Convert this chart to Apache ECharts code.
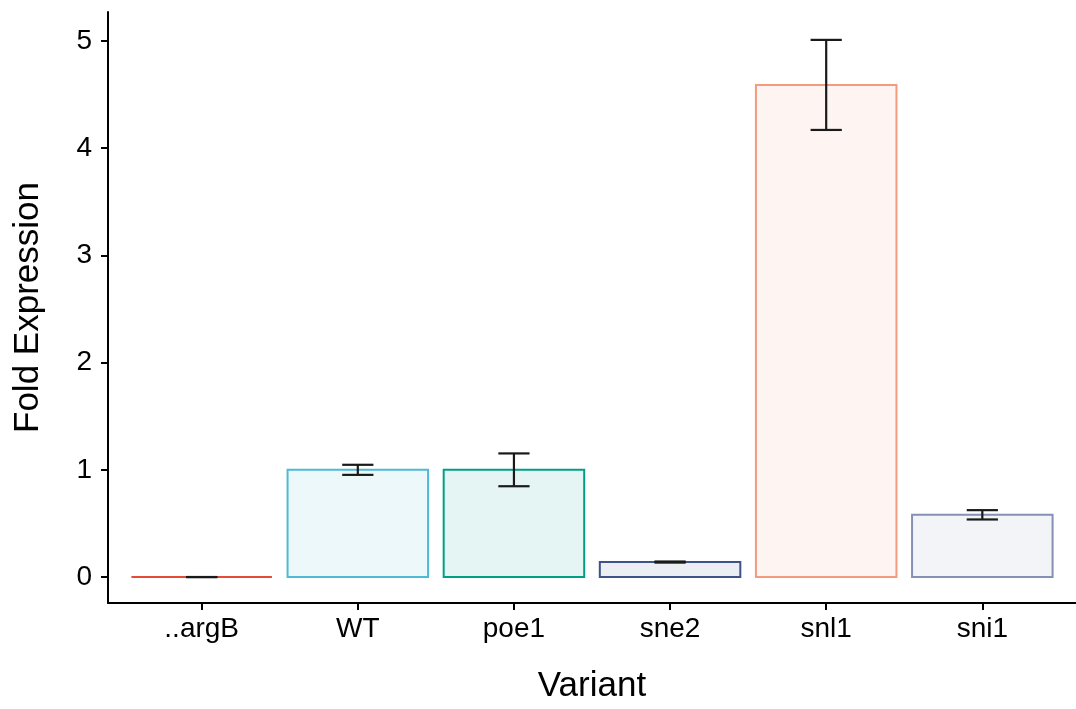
<!DOCTYPE html>
<html>
<head>
<meta charset="utf-8">
<script src="https://cdn.jsdelivr.net/npm/echarts@6/dist/echarts.min.js"></script>
<style>
  html, body { margin: 0; padding: 0; background: #fff; }
  #main { width: 1076px; height: 709px; }
</style>
</head>
<body>
<div id="main"></div>
<script>
const variants = ['..argB', 'WT', 'poe1', 'sne2', 'snl1', 'sni1']
const foldExpression = [0.0, 1.0, 1.0, 0.14, 4.59, 0.58]
const errLow = [0.0, 0.953, 0.847, 0.135, 4.17, 0.537]
const errHigh = [0.0, 1.047, 1.153, 0.145, 5.01, 0.624]
const yTicks = [0, 1, 2, 3, 4, 5]

const strokeColors = ['#E64B35', '#4DBBD5', '#00A087', '#3C5488', '#F39B7F', '#8491B4']
const fillColors = strokeColors.map(c => echarts.color.modifyAlpha(c, 0.1))
const font = '"Liberation Sans", Arial, Helvetica, sans-serif'

const barData = foldExpression.map((v, i) => [i, v])
const errData = variants.map((_, i) => [i, errLow[i], errHigh[i]])

const chart = echarts.init(document.getElementById('main'))
chart.setOption({
  animation: false,
  grid: { left: 108, right: 0, top: 12, bottom: 105 },
  xAxis: {
    type: 'value',
    min: -0.6,
    max: 5.6,
    name: 'Variant',
    nameLocation: 'middle',
    nameGap: 66,
    nameTextStyle: { fontFamily: font, fontSize: 35, color: '#000' },
    splitLine: { show: false },
    axisLine: { show: true, onZero: false, lineStyle: { color: '#000', width: 2 } },
    axisTick: { show: true, length: 7, customValues: yTicks, lineStyle: { color: '#000', width: 2 } },
    axisLabel: {
      customValues: yTicks,
      margin: 12,
      fontFamily: font, fontSize: 28, color: '#000',
      formatter: v => variants[Math.round(v)]
    }
  },
  yAxis: {
    type: 'value',
    min: -0.242,
    max: 5.27,
    name: 'Fold Expression',
    nameLocation: 'middle',
    nameGap: 62,
    nameTextStyle: { fontFamily: font, fontSize: 35, color: '#000' },
    splitLine: { show: false },
    axisLine: { show: true, onZero: false, lineStyle: { color: '#000', width: 2 } },
    axisTick: { show: true, length: 7, customValues: yTicks, lineStyle: { color: '#000', width: 2 } },
    axisLabel: {
      customValues: yTicks,
      margin: 16,
      fontFamily: font, fontSize: 28, color: '#000'
    }
  },
  series: [
    {
      type: 'custom',
      name: 'bars',
      data: barData,
      renderItem: (params, api) => {
        const i = params.dataIndex
        const x = api.value(0)
        const v = api.value(1)
        const p0 = api.coord([x - 0.45, 0])
        const p1 = api.coord([x + 0.45, v])
        return {
          type: 'rect',
          shape: { x: p0[0], y: p1[1], width: p1[0] - p0[0], height: p0[1] - p1[1] },
          style: { fill: fillColors[i], stroke: strokeColors[i], lineWidth: 2 }
        }
      }
    },
    {
      type: 'custom',
      name: 'error',
      data: errData,
      z: 3,
      renderItem: (params, api) => {
        const x = api.value(0)
        const lo = api.coord([x, api.value(1)])
        const hi = api.coord([x, api.value(2)])
        const l = api.coord([x - 0.1, 0])[0]
        const r = api.coord([x + 0.1, 0])[0]
        const style = { stroke: '#1a1a1a', lineWidth: 2.2 }
        return {
          type: 'group',
          children: [
            { type: 'line', shape: { x1: lo[0], y1: lo[1], x2: hi[0], y2: hi[1] }, style },
            { type: 'line', shape: { x1: l, y1: lo[1], x2: r, y2: lo[1] }, style },
            { type: 'line', shape: { x1: l, y1: hi[1], x2: r, y2: hi[1] }, style }
          ]
        }
      }
    }
  ]
})
window.addEventListener('resize', () => {
  chart.resize()
})
</script>
</body>
</html>
